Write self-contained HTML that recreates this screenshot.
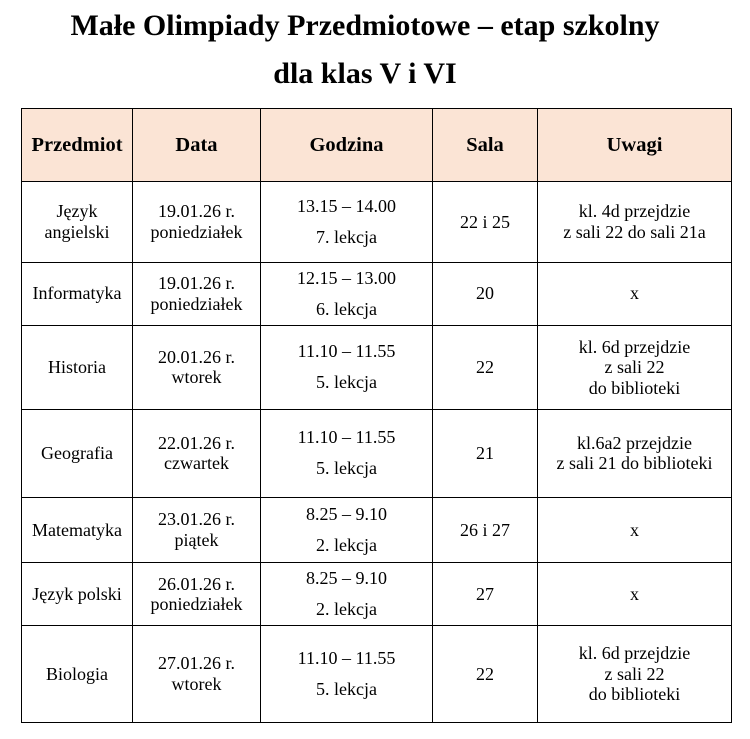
<!DOCTYPE html>
<html><head><meta charset="utf-8"><style>
body{margin:0;background:#fff;width:750px;height:739px;position:relative;font-family:"Liberation Serif",serif;color:#000}
.t{position:absolute;left:0;width:730px;text-align:center;font-weight:bold;font-size:30px}
table{position:absolute;left:21px;top:108px;border-collapse:collapse;table-layout:fixed}
td{border:1.5px solid #000;text-align:center;vertical-align:middle;font-size:18px;line-height:20.5px;padding:0}
tr.h td{background:#fbe4d5;font-weight:bold;font-size:20.5px}
.g{line-height:31px}
</style></head><body>
<div class="t" style="top:9px">Małe Olimpiady Przedmiotowe – etap szkolny</div>
<div class="t" style="top:57px">dla klas V i VI</div>
<table>
<colgroup><col style="width:111px"><col style="width:128px"><col style="width:172px"><col style="width:105px"><col style="width:194px"></colgroup>
<tr class="h" style="height:73px"><td>Przedmiot</td><td>Data</td><td>Godzina</td><td>Sala</td><td>Uwagi</td></tr>
<tr style="height:80.5px"><td>Język<br>angielski</td><td>19.01.26 r.<br>poniedziałek</td><td class="g">13.15 – 14.00<br>7. lekcja</td><td>22 i 25</td><td>kl. 4d przejdzie<br>z sali 22 do sali 21a</td></tr>
<tr style="height:60.5px"><td>Informatyka</td><td>19.01.26 r.<br>poniedziałek</td><td class="g">12.15 – 13.00<br>6. lekcja</td><td>20</td><td>x</td></tr>
<tr style="height:84.5px"><td>Historia</td><td>20.01.26 r.<br>wtorek</td><td class="g">11.10 – 11.55<br>5. lekcja</td><td>22</td><td>kl. 6d przejdzie<br>z sali 22<br>do biblioteki</td></tr>
<tr style="height:87.5px"><td>Geografia</td><td>22.01.26 r.<br>czwartek</td><td class="g">11.10 – 11.55<br>5. lekcja</td><td>21</td><td>kl.6a2 przejdzie<br>z sali 21 do biblioteki</td></tr>
<tr style="height:65.5px"><td>Matematyka</td><td>23.01.26 r.<br>piątek</td><td class="g">8.25 – 9.10<br>2. lekcja</td><td>26 i 27</td><td>x</td></tr>
<tr style="height:61.5px"><td>Język polski</td><td>26.01.26 r.<br>poniedziałek</td><td class="g">8.25 – 9.10<br>2. lekcja</td><td>27</td><td>x</td></tr>
<tr style="height:96.5px"><td>Biologia</td><td>27.01.26 r.<br>wtorek</td><td class="g">11.10 – 11.55<br>5. lekcja</td><td>22</td><td>kl. 6d przejdzie<br>z sali 22<br>do biblioteki</td></tr>
</table>
</body></html>
